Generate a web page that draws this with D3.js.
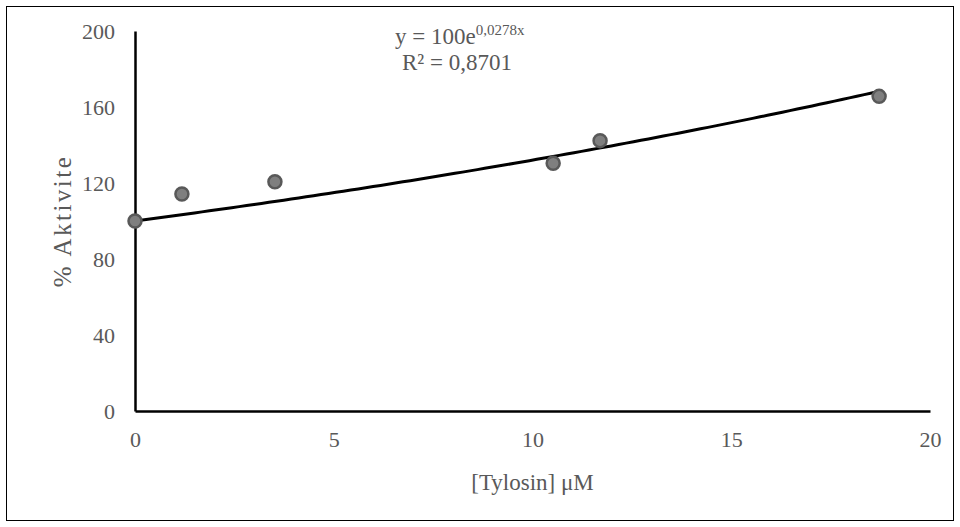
<!DOCTYPE html>
<html>
<head>
<meta charset="utf-8">
<script src="https://cdn.jsdelivr.net/npm/d3@7"></script>
<style>
  html, body { margin: 0; padding: 0; background: #fff; }
  svg { display: block; }
  text { font-family: "Liberation Serif", "Times New Roman", serif; fill: #595959; }
</style>
</head>
<body>
<svg id="chart" width="960" height="527"></svg>
<script>
// Tylosin concentration (μM) vs. % activity
const concentrations = [0, 1.18, 3.52, 10.52, 11.70, 18.72];
const activity = [100, 114.2, 120.7, 130.4, 142.3, 165.6];
const xTicks = [0, 5, 10, 15, 20];
const yTicks = [0, 40, 80, 120, 160, 200];
// Exponential fit: y = A * e^(k x)
const fitA = 100;
const fitK = 0.0278;
const fitR2 = "0,8701";

const svg = d3.select("#chart");
const W = 960, H = 527;
const margin = { left: 135, right: 30, top: 31, bottom: 116 };
const tickFont = "22px";

svg.append("rect")
  .attr("x", 6.5).attr("y", 6.5)
  .attr("width", W - 13).attr("height", H - 13)
  .attr("fill", "#fff").attr("stroke", "#000").attr("stroke-width", 1);

const x = d3.scaleLinear().domain([0, 20]).range([margin.left, W - margin.right]);
const y = d3.scaleLinear().domain([0, 200]).range([H - margin.bottom, margin.top]);

// Axes: plain lines with labels, no tick marks
const xAxis = svg.append("g")
  .attr("transform", `translate(0,${y(0)})`)
  .call(d3.axisBottom(x).tickValues(xTicks).tickSize(0).tickPadding(20).tickFormat(d3.format("d")));
xAxis.select(".domain").attr("stroke", "#000").attr("stroke-width", 2.5);
xAxis.selectAll("text").style("font-size", tickFont).attr("fill", "#595959")
  .style("font-family", "'Liberation Serif', serif");

const yAxis = svg.append("g")
  .attr("transform", `translate(${x(0)},0)`)
  .call(d3.axisLeft(y).tickValues(yTicks).tickSize(0).tickPadding(20).tickFormat(d3.format("d")));
yAxis.select(".domain").attr("stroke", "#000").attr("stroke-width", 2.5);
yAxis.selectAll("text").style("font-size", tickFont).attr("fill", "#595959")
  .style("font-family", "'Liberation Serif', serif");

// Trend line
const xMax = d3.max(concentrations);
const fitPts = d3.range(0, 101).map(i => {
  const xv = xMax * i / 100;
  return [xv, fitA * Math.exp(fitK * xv)];
});
svg.append("path")
  .datum(fitPts)
  .attr("fill", "none")
  .attr("stroke", "#000")
  .attr("stroke-width", 3)
  .attr("d", d3.line().x(d => x(d[0])).y(d => y(d[1])));

// Data points
svg.append("g").selectAll("circle")
  .data(concentrations.map((c, i) => [c, activity[i]]))
  .join("circle")
  .attr("cx", d => x(d[0]))
  .attr("cy", d => y(d[1]))
  .attr("r", 6.5)
  .attr("fill", "#7f7f7f")
  .attr("stroke", "#595959")
  .attr("stroke-width", 2.5);

// Fit equation
const eq = svg.append("text")
  .attr("x", 395).attr("y", 44)
  .style("font-size", "23px");
eq.append("tspan").text(`y = ${fitA}e`);
eq.append("tspan").attr("dy", -9).style("font-size", "15px").text(`${String(fitK).replace(".", ",")}x`);

svg.append("text")
  .attr("x", 402).attr("y", 70)
  .style("font-size", "23px")
  .text(`R² = ${fitR2}`);

// Axis titles
svg.append("text")
  .attr("x", (x(0) + x(20)) / 2).attr("y", 490)
  .attr("text-anchor", "middle")
  .style("font-size", "23px")
  .text("[Tylosin] μM");

svg.append("text")
  .attr("transform", `translate(71,${y(100)}) rotate(-90)`)
  .attr("text-anchor", "middle")
  .style("font-size", "25px")
  .style("letter-spacing", "2.5px")
  .text("% Aktivite");
</script>
</body>
</html>
